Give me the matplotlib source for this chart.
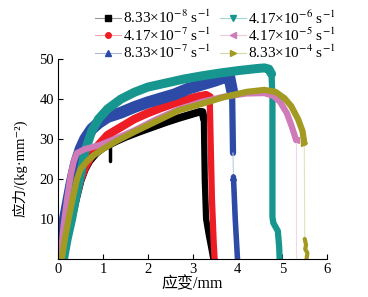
import numpy as np
import matplotlib
matplotlib.use("Agg")
import matplotlib.pyplot as plt
from matplotlib.lines import Line2D
from matplotlib.colors import to_rgb

plt.rcParams['font.family'] = ['Liberation Serif', 'Noto Sans CJK SC', 'DejaVu Sans']
plt.rcParams['mathtext.fontset'] = 'stix'
plt.rcParams['font.size'] = 10

# ---------------- data ----------------
labels = ['8.33×10$^{-8}$ s$^{-1}$', '4.17×10$^{-7}$ s$^{-1}$', '8.33×10$^{-7}$ s$^{-1}$',
          '4.17×10$^{-6}$ s$^{-1}$', '4.17×10$^{-5}$ s$^{-1}$', '8.33×10$^{-4}$ s$^{-1}$']
colors = ['#000000', '#ee1c24', '#2c4aa6', '#17968f', '#cf7bb7', '#a39a22']
markers = ['s', 'o', '^', 'v', '<', '>']

black_x = [0.10, 0.20, 0.30, 0.40, 0.50, 0.60, 0.70, 0.85, 1.00, 1.30, 1.50, 1.80,
           2.10, 2.40, 2.70, 3.00, 3.15, 3.22, 3.25]
black_y = [0, 5, 10, 15, 19.5, 22.5, 24.5, 26.5, 27.8, 29.5, 30.5, 31.8,
           33, 34.2, 35.3, 36.3, 36.8, 36.8, 35]
black_spike_x = [1.16, 1.16]
black_spike_y = [31, 24.5]
black_drop_x = [3.25, 3.27, 3.30, 3.36, 3.42, 3.46]
black_drop_y = [35, 20, 10, 6, 2.5, 0]

red_x = [0.08, 0.20, 0.30, 0.40, 0.50, 0.60, 0.75, 0.90, 1.10, 1.40, 1.70, 2.00, 2.30, 2.60,
         2.90, 3.10, 3.30, 3.38]
red_y = [0, 6, 11, 16, 20, 23, 26, 28.5, 31, 33, 35, 36.5, 37.8, 39,
         40, 40.6, 41, 40.5]
red_drop_x = [3.38, 3.40, 3.43, 3.47, 3.49]
red_drop_y = [40.5, 30, 15, 4, 0]

blue_x = [0.02, 0.10, 0.20, 0.30, 0.40, 0.50, 0.60, 0.75, 0.90, 1.10, 1.40, 1.70, 2.00, 2.30,
          2.60, 2.90, 3.20, 3.50, 3.70, 3.82, 3.88]
blue_y = [0, 7, 13, 19, 24, 27.5, 30, 32.5, 34, 35.5, 36.6, 38, 39.2, 40.2,
          41.2, 42.6, 43.6, 44.6, 45.4, 45.4, 42]
blue_drop_x = [3.88, 3.90]
blue_drop_y = [42, 26.5]
blue_tail_x = [3.90, 3.91]
blue_tail_y = [26.5, 20.5]
blue_end_x = [3.91, 3.95, 4.00]
blue_end_y = [20.5, 10, 0]

teal_x = [0.12, 0.20, 0.30, 0.40, 0.50, 0.60, 0.75, 0.90, 1.10, 1.40, 1.70, 2.00, 2.40, 2.80,
          3.20, 3.60, 4.00, 4.40, 4.60, 4.70, 4.76]
teal_y = [0, 5, 10, 16, 21, 27, 32, 35, 37.5, 40, 41.7, 43, 44, 45,
          45.8, 46.5, 47.1, 47.6, 47.8, 47.5, 46.3]
teal_drop_x = [4.76, 4.78, 4.78, 4.80, 4.90, 4.93, 4.94]
teal_drop_y = [46.3, 40, 10.5, 9, 7, 3, 0]

pink_x = [0.05, 0.12, 0.20, 0.28, 0.35, 0.42, 0.60, 0.93, 1.30, 1.67, 2.20, 2.70, 3.20, 3.70,
          4.20, 4.60, 4.80, 4.95, 5.10, 5.20, 5.31]
pink_y = [0, 8, 15, 21, 24.5, 26.5, 27.5, 28.5, 30.2, 32, 35, 37.5, 39.3, 40.6,
          41.4, 41.5, 40.8, 39.3, 36.5, 33.5, 29.7]
pink_tail_x = [5.31, 5.31]
pink_tail_y = [29.7, 0]

olive_x = [0.08, 0.15, 0.25, 0.35, 0.42, 0.50, 0.65, 0.80, 1.00, 1.30, 1.70, 2.20, 2.70, 3.20,
           3.70, 4.20, 4.60, 4.85, 5.05, 5.20, 5.35, 5.45, 5.49]
olive_y = [0, 5, 11, 16.5, 20, 22.5, 24.5, 26, 27.5, 29.5, 31.8, 34.5, 37.2, 38.8,
           40.5, 41.8, 42.3, 41.8, 40.2, 38.2, 35, 32, 29]
olive_tail_x = [5.49, 5.50]
olive_tail_y = [29, 5]
olive_end_x = [5.50, 5.53, 5.51, 5.56, 5.54]
olive_end_y = [5, 3.5, 2.5, 1.5, 0]

xticks = [0, 1, 2, 3, 4, 5, 6]
yticks = [10, 20, 30, 40, 50]

# ---------------- plot ----------------
fig = plt.figure(figsize=(3.68, 2.97), dpi=100)
ax = fig.add_axes([0.158, 0.128, 0.731, 0.673])


def light(c, f=0.6):
    r = np.array(to_rgb(c))
    return tuple(r + (1 - r) * f)


kw = dict(solid_joinstyle='round', solid_capstyle='round')
ax.plot(black_x, black_y, color=colors[0], lw=5.5, **kw)
ax.plot(black_spike_x, black_spike_y, color=colors[0], lw=2.5, **kw)
ax.plot(black_drop_x, black_drop_y, color=colors[0], lw=4.5, **kw)
ax.plot(red_x, red_y, color=colors[1], lw=6, **kw)
ax.plot(red_drop_x, red_drop_y, color=colors[1], lw=4.5, **kw)
ax.plot(blue_x, blue_y, color=colors[2], lw=8.5, **kw)
ax.plot(blue_drop_x, blue_drop_y, color=colors[2], lw=4.5, **kw)
ax.plot(blue_tail_x, blue_tail_y, color=light(colors[2], 0.7), lw=0.8)
ax.plot(blue_end_x, blue_end_y, color=colors[2], lw=4, **kw)
ax.plot(blue_tail_x[-1:], blue_tail_y[-1:], color=colors[2], marker='^', ms=4, ls='none')
ax.plot(teal_x, teal_y, color=colors[3], lw=6.5, **kw)
ax.plot(teal_drop_x, teal_drop_y, color=colors[3], lw=4.5, **kw)
ax.plot(pink_x, pink_y, color=colors[4], lw=4.5, **kw)
ax.plot(pink_tail_x, pink_tail_y, color=light(colors[4], 0.7), lw=0.8)
ax.plot(pink_x[-1:], pink_y[-1:], color=colors[4], marker='<', ms=4, ls='none')
ax.plot(olive_x, olive_y, color=colors[5], lw=4.5, **kw)
ax.plot(olive_tail_x, olive_tail_y, color=light(colors[5], 0.7), lw=0.8)
ax.plot(olive_end_x, olive_end_y, color=colors[5], lw=3, **kw)
ax.plot(olive_x[-1:], olive_y[-1:], color=colors[5], marker='>', ms=4, ls='none')

ax.set_xlim(0, 6)
ax.set_ylim(0, 50)
ax.set_xticks(xticks)
ax.set_yticks(yticks)
ax.spines['top'].set_visible(False)
ax.spines['right'].set_visible(False)
ax.tick_params(direction='in', length=3.5, width=0.8, labelsize=10.5, pad=3)
ax.set_xlabel('应变/mm', fontsize=11.5, labelpad=0)
ax.set_ylabel('应力/(kg·mm⁻²)', fontsize=10.5)
ax.yaxis.set_label_coords(-0.115, 0.455)

handles = [Line2D([], [], color=light(c), lw=0.8, marker=m, markersize=4,
                  markerfacecolor=c, markeredgecolor=c)
           for c, m in zip(colors, markers)]
leg_kw = dict(loc='upper left', ncol=1, frameon=False, fontsize=11, handlelength=1.7,
              handletextpad=0.15, labelspacing=0.0, borderpad=0.0, borderaxespad=0.0)
leg1 = fig.legend(handles[:3], labels[:3], bbox_to_anchor=(95 / 368, 1 - 9 / 297), **leg_kw)
leg2 = fig.legend(handles[3:], labels[3:], bbox_to_anchor=(220 / 368, 1 - 9 / 297), **leg_kw)

fig.savefig('out.png', dpi=100)
